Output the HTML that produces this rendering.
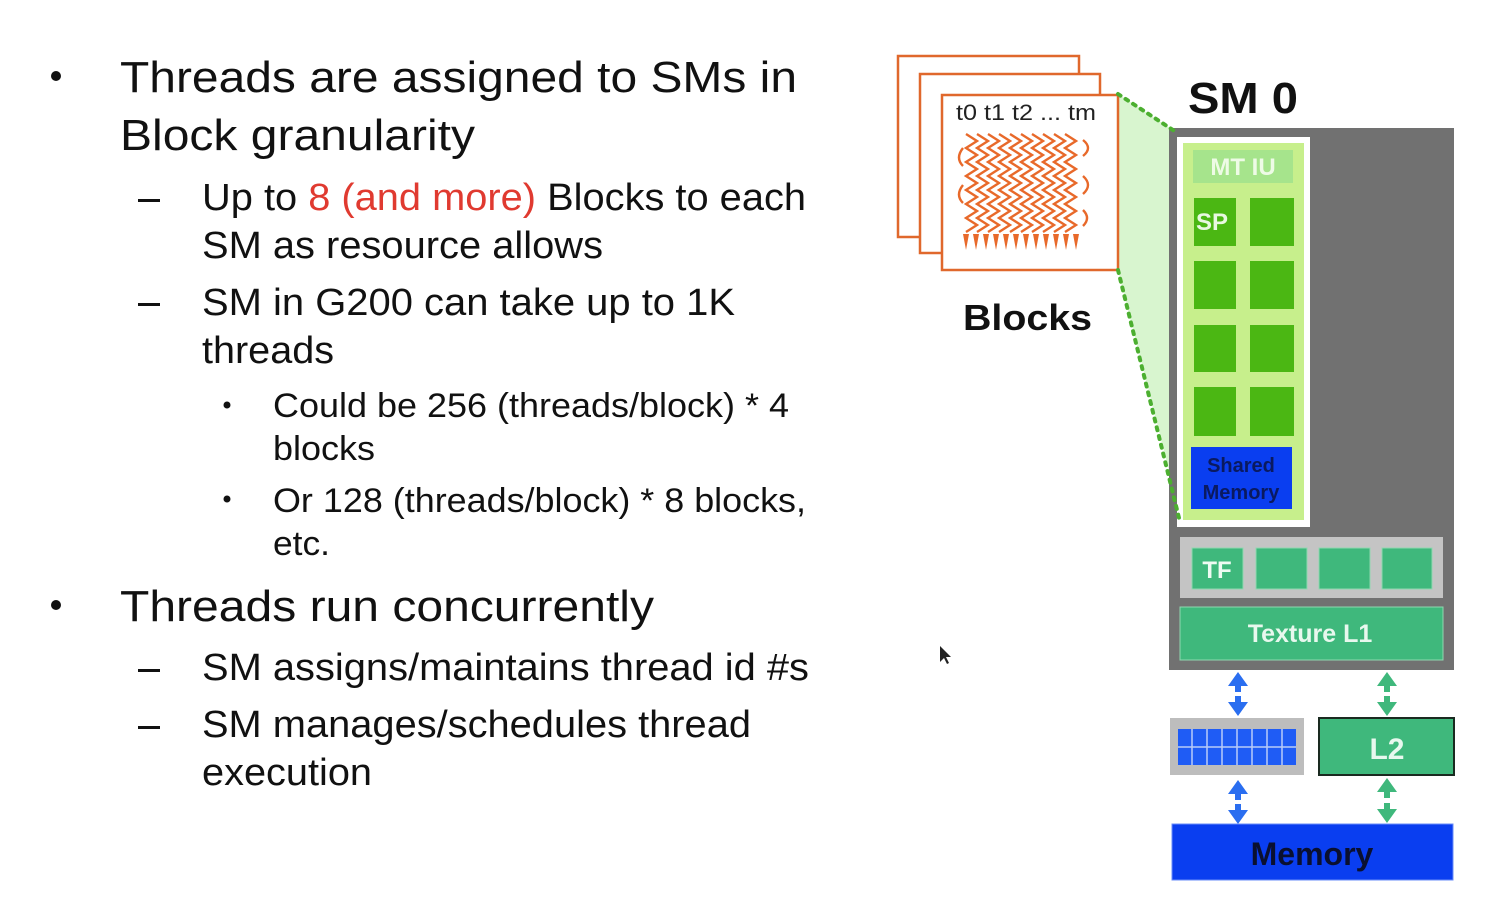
<!DOCTYPE html>
<html><head><meta charset="utf-8"><style>
html,body{margin:0;padding:0;background:#fff;}
svg{display:block;}
text{font-family:"Liberation Sans",Arial,sans-serif;}
</style></head><body>
<svg width="1509" height="901" viewBox="0 0 1509 901" xmlns="http://www.w3.org/2000/svg">
<rect width="1509" height="901" fill="#fff"/>
<g fill="#111">
<circle cx="56" cy="76" r="5"/>
<circle cx="56" cy="605" r="5"/>
<rect x="138" y="199" width="22" height="3"/>
<rect x="138" y="303" width="22" height="3"/>
<rect x="138" y="669" width="22" height="3"/>
<rect x="138" y="726" width="22" height="3"/>
<circle cx="227" cy="405" r="3.5"/>
<circle cx="227" cy="499" r="3.5"/>
</g>
<g fill="#111">
<text x="120" y="92" font-size="44" textLength="677" lengthAdjust="spacingAndGlyphs">Threads are assigned to SMs in</text>
<text x="120" y="150" font-size="44" textLength="355" lengthAdjust="spacingAndGlyphs">Block granularity</text>
<text x="202" y="210" font-size="38" textLength="604" lengthAdjust="spacingAndGlyphs">Up to <tspan fill="#e03a30">8 (and more)</tspan> Blocks to each</text>
<text x="202" y="258" font-size="38" textLength="401" lengthAdjust="spacingAndGlyphs">SM as resource allows</text>
<text x="202" y="315" font-size="38" textLength="533" lengthAdjust="spacingAndGlyphs">SM in G200 can take up to 1K</text>
<text x="202" y="363" font-size="38" textLength="132" lengthAdjust="spacingAndGlyphs">threads</text>
<text x="273" y="417" font-size="34" textLength="516" lengthAdjust="spacingAndGlyphs">Could be 256 (threads/block) * 4</text>
<text x="273" y="460" font-size="34" textLength="102" lengthAdjust="spacingAndGlyphs">blocks</text>
<text x="273" y="512" font-size="34" textLength="533" lengthAdjust="spacingAndGlyphs">Or 128 (threads/block) * 8 blocks,</text>
<text x="273" y="555" font-size="34" textLength="57" lengthAdjust="spacingAndGlyphs">etc.</text>
<text x="120" y="621" font-size="44" textLength="534" lengthAdjust="spacingAndGlyphs">Threads run concurrently</text>
<text x="202" y="680" font-size="38" textLength="607" lengthAdjust="spacingAndGlyphs">SM assigns/maintains thread id #s</text>
<text x="202" y="737" font-size="38" textLength="549" lengthAdjust="spacingAndGlyphs">SM manages/schedules thread</text>
<text x="202" y="785" font-size="38" textLength="170" lengthAdjust="spacingAndGlyphs">execution</text>
</g>

<!-- blocks -->
<rect x="898" y="56" width="181" height="181" fill="#fff" stroke="#e0682c" stroke-width="2.5"/>
<rect x="920" y="74" width="180" height="179" fill="#fff" stroke="#e0682c" stroke-width="2.5"/>
<polygon points="1118,94 1176,132 1182,522 1118,270" fill="#d8f5cf"/>
<rect x="942" y="95" width="176" height="175" fill="#fff" stroke="#e0682c" stroke-width="2.5"/>
<text x="956" y="120" font-size="22" fill="#222" textLength="140" lengthAdjust="spacingAndGlyphs">t0 t1 t2 ... tm</text>
<g stroke="#e8692a" stroke-width="2.4" fill="none">
<path id="zz" d="M966,134 l11,7 l-11,7 l11,7 l-11,7 l11,7 l-11,7 l11,7 l-11,7 l11,7 l-11,7 l11,7 l-11,7 l11,7 l-11,7"/>
<use href="#zz" x="11"/><use href="#zz" x="22"/><use href="#zz" x="33"/><use href="#zz" x="44"/>
<use href="#zz" x="55"/><use href="#zz" x="66"/><use href="#zz" x="77"/><use href="#zz" x="88"/><use href="#zz" x="99"/>
<path d="M963,148 q-8,10 0,18 M963,185 q-8,10 0,18 M1083,140 q10,8 0,16 M1083,176 q10,9 0,18 M1083,210 q8,8 0,16"/>
</g>
<g fill="#e8692a">
<path d="M963,234 l3,16 l3,-16z M973,234 l3,16 l3,-16z M983,234 l3,16 l3,-16z M993,234 l3,16 l3,-16z M1003,234 l3,16 l3,-16z M1013,234 l3,16 l3,-16z M1023,234 l3,16 l3,-16z M1033,234 l3,16 l3,-16z M1043,234 l3,16 l3,-16z M1053,234 l3,16 l3,-16z M1063,234 l3,16 l3,-16z M1073,234 l3,16 l3,-16z"/>
</g>
<text x="963" y="330" font-size="36" font-weight="bold" fill="#111" textLength="129" lengthAdjust="spacingAndGlyphs">Blocks</text>
<text x="1188" y="113" font-size="44" font-weight="bold" fill="#111" textLength="110" lengthAdjust="spacingAndGlyphs">SM 0</text>

<!-- SM -->
<rect x="1169" y="128" width="285" height="542" fill="#717171"/>
<rect x="1177" y="137" width="133" height="390" fill="#fff"/>
<rect x="1183" y="143" width="121" height="377" fill="#c7ef8c"/>
<rect x="1193" y="150" width="100" height="33" fill="#a6e48c"/>
<text x="1243" y="175" font-size="24" font-weight="bold" fill="#eefbe6" text-anchor="middle">MT IU</text>
<g fill="#4bb713">
<rect x="1194" y="198" width="42" height="48"/><rect x="1250" y="198" width="44" height="48"/>
<rect x="1194" y="261" width="42" height="48"/><rect x="1250" y="261" width="44" height="48"/>
<rect x="1194" y="325" width="42" height="47"/><rect x="1250" y="325" width="44" height="47"/>
<rect x="1194" y="387" width="42" height="49"/><rect x="1250" y="387" width="44" height="49"/>
</g>
<text x="1196" y="230" font-size="24" font-weight="bold" fill="#e8f8e0">SP</text>
<rect x="1191" y="447" width="101" height="62" fill="#0a3ef0"/>
<text x="1241" y="472" font-size="20" font-weight="bold" fill="#0a1a60" text-anchor="middle">Shared</text>
<text x="1241" y="499" font-size="20" font-weight="bold" fill="#0a1a60" text-anchor="middle">Memory</text>

<line x1="1118" y1="94" x2="1176" y2="132" stroke="#4caf30" stroke-width="4" stroke-dasharray="3,6" stroke-linecap="round"/>
<line x1="1118" y1="270" x2="1180" y2="522" stroke="#4caf30" stroke-width="4" stroke-dasharray="3,6" stroke-linecap="round"/>

<rect x="1180" y="537" width="263" height="61" fill="#c4c4c4"/>
<g fill="#3fb87c" stroke="#8fd8b0" stroke-width="1">
<rect x="1192" y="548" width="51" height="41"/><rect x="1256" y="548" width="51" height="41"/>
<rect x="1319" y="548" width="51" height="41"/><rect x="1382" y="548" width="50" height="41"/>
</g>
<text x="1217" y="578" font-size="24" font-weight="bold" fill="#eefbf2" text-anchor="middle">TF</text>
<rect x="1180" y="607" width="263" height="53" fill="#3fb87c" stroke="#8fd8b0" stroke-width="1"/>
<text x="1310" y="642" font-size="25" font-weight="bold" fill="#e8f8ee" text-anchor="middle">Texture L1</text>

<!-- arrows -->
<g fill="#2a6ef0">
<path d="M1238,672 l-10,14 h7 v6 h6 v-6 h7z M1238,716 l-10,-14 h7 v-6 h6 v6 h7z"/>
<path d="M1238,780 l-10,14 h7 v6 h6 v-6 h7z M1238,824 l-10,-14 h7 v-6 h6 v6 h7z"/>
</g>
<g fill="#3fb87c">
<path d="M1387,672 l-10,14 h7 v6 h6 v-6 h7z M1387,716 l-10,-14 h7 v-6 h6 v6 h7z"/>
<path d="M1387,778 l-10,14 h7 v6 h6 v-6 h7z M1387,823 l-10,-14 h7 v-6 h6 v6 h7z"/>
</g>
<rect x="1170" y="718" width="134" height="57" fill="#bdbdbd"/>
<rect x="1178" y="729" width="118" height="36" fill="#1f5cf5"/>
<g stroke="#b8cbf8" stroke-width="1.5">
<line x1="1192" y1="729" x2="1192" y2="765"/><line x1="1207" y1="729" x2="1207" y2="765"/>
<line x1="1222" y1="729" x2="1222" y2="765"/><line x1="1237" y1="729" x2="1237" y2="765"/>
<line x1="1252" y1="729" x2="1252" y2="765"/><line x1="1267" y1="729" x2="1267" y2="765"/>
<line x1="1282" y1="729" x2="1282" y2="765"/><line x1="1178" y1="747" x2="1296" y2="747"/>
</g>
<rect x="1319" y="718" width="135" height="57" fill="#3fb87c" stroke="#1a2a20" stroke-width="2"/>
<text x="1387" y="759" font-size="30" font-weight="bold" fill="#e8f8ee" text-anchor="middle">L2</text>
<rect x="1172" y="824" width="281" height="56" fill="#0a3ef0" stroke="#6a8cf8" stroke-width="1"/>
<text x="1312" y="865" font-size="32" font-weight="bold" fill="#0a1030" text-anchor="middle">Memory</text>
<path d="M940,646 l0,16 l4,-4 l3,6 l2,-1 l-3,-6 l5,0z" fill="#222"/>
</svg>
</body></html>
